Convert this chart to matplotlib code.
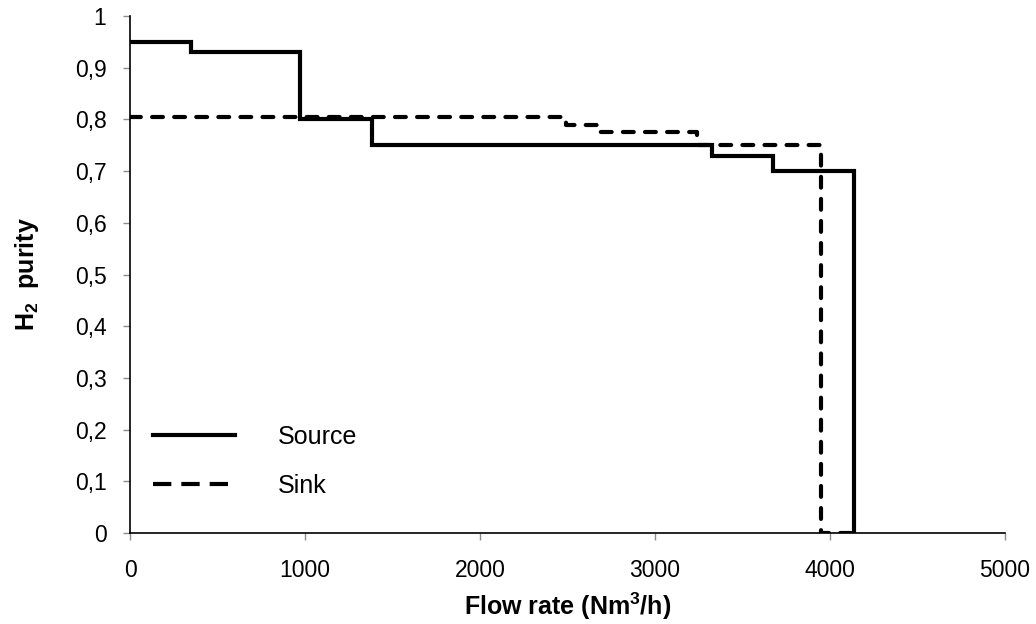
import matplotlib.pyplot as plt

plt.rcParams['font.family'] = ['Liberation Sans', 'DejaVu Sans']
plt.rcParams['mathtext.default'] = 'regular'

# Source composite curve (flow rate breakpoints, purity levels)
source_flow = [0, 350, 970, 1385, 3325, 3675, 4135, 4135]
source_purity = [0.95, 0.93, 0.80, 0.75, 0.73, 0.70, 0.70, 0.0]

# Sink composite curve
sink_flow = [0, 2490, 2675, 3240, 3950, 3950, 4135]
sink_purity = [0.805, 0.79, 0.775, 0.75, 0.75, 0.0, 0.0]

x_ticks = [0, 1000, 2000, 3000, 4000, 5000]
y_ticks = [0, 0.1, 0.2, 0.3, 0.4, 0.5, 0.6, 0.7, 0.8, 0.9, 1.0]

fig = plt.figure(figsize=(10.36, 6.24), dpi=100)
ax = fig.add_axes([0.1255, 0.1458, 0.8445, 0.8285])

ax.step(source_flow, source_purity, where='post', color='black', lw=3,
        solid_joinstyle='miter', label='Source')
ax.step(sink_flow, sink_purity, where='post', color='black', lw=3,
        dashes=(2.6, 2.7), dash_capstyle='round', label='Sink')

ax.set_xlim(0, 5000)
ax.set_ylim(0, 1)
ax.set_xticks(x_ticks)
ax.set_yticks(y_ticks)
ax.set_yticklabels(['0' if v == 0 else ('1' if v == 1 else f'{v:.1f}'.replace('.', ','))
                    for v in y_ticks])
ax.tick_params(labelsize=16.5, color='#8c8c8c', length=5, width=1)
ax.tick_params(axis='x', pad=14)
ax.tick_params(axis='y', pad=12)

for side in ('top', 'right'):
    ax.spines[side].set_visible(False)
for side in ('left', 'bottom'):
    ax.spines[side].set_linewidth(1.2)

ax.set_xlabel('Flow rate (Nm$^3$/h)', fontsize=18, fontweight='bold', labelpad=6)
ax.set_ylabel('H$_2$  purity', fontsize=18, fontweight='bold', labelpad=24)

leg = ax.legend(loc='lower left', bbox_to_anchor=(0.0, 0.025), frameon=False,
                fontsize=18, handlelength=3.3, handletextpad=1.7, labelspacing=1.0)
leg.get_lines()[1].set_dashes((4.4, 2.4))
leg.get_lines()[1].set_dash_capstyle('butt')

fig.savefig('out.png', dpi=100)
